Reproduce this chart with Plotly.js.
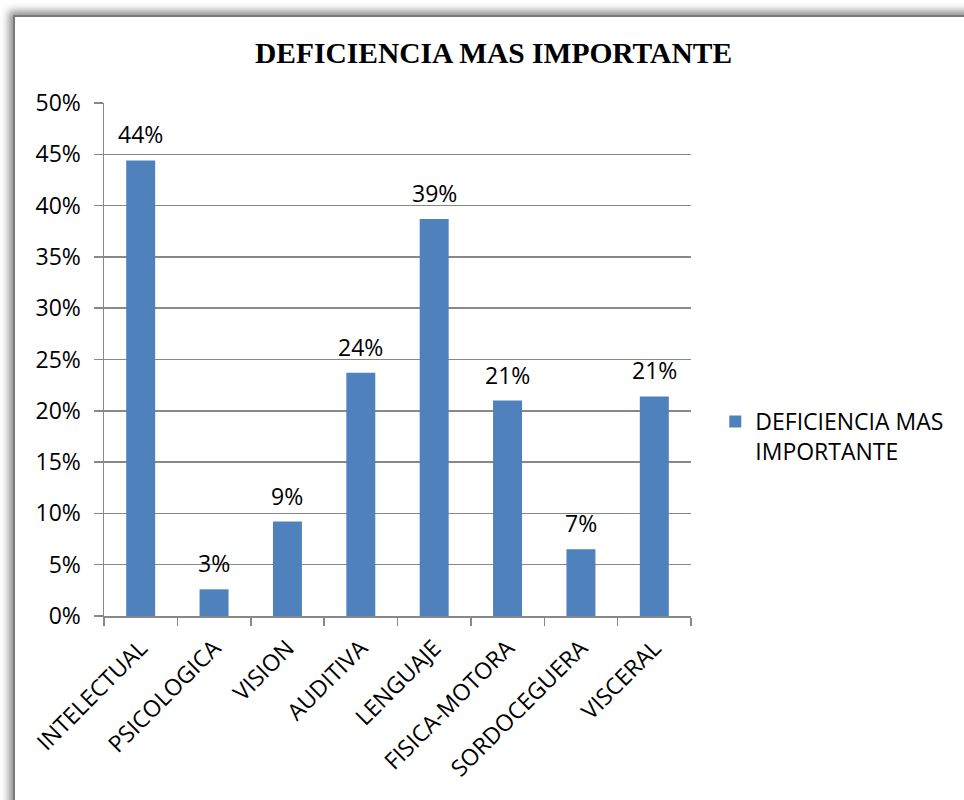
<!DOCTYPE html>
<html>
<head>
<meta charset="utf-8">
<script src="https://cdn.plot.ly/plotly-3.0.1.min.js"></script>
<style>
  html, body { margin: 0; padding: 0; width: 964px; height: 800px; overflow: hidden; background: #ffffff; }
  #frame { position: absolute; left: 13px; top: 15px; width: 1000px; height: 900px;
           border-left: 2px solid #7a7a7a; border-top: 2px solid #7a7a7a;
           box-shadow: -4px -4px 8px rgba(0,0,0,0.45); background: #ffffff; z-index: 0; }
  #chart { position: absolute; left: 0; top: 0; width: 964px; height: 800px; z-index: 1; }
</style>
</head>
<body>
<div id="frame"></div>
<div id="chart"></div>
<script>
const categories = ["INTELECTUAL", "PSICOLOGICA", "VISION", "AUDITIVA", "LENGUAJE", "FISICA-MOTORA", "SORDOCEGUERA", "VISCERAL"];
const values = [0.444, 0.026, 0.092, 0.237, 0.387, 0.210, 0.065, 0.214];
const seriesName = "DEFICIENCIA MAS<br>IMPORTANTE";
const chartTitle = "DEFICIENCIA MAS IMPORTANTE";
const yTickVals = [0, 0.05, 0.10, 0.15, 0.20, 0.25, 0.30, 0.35, 0.40, 0.45, 0.50];
const yTickText = ["0%", "5%", "10%", "15%", "20%", "25%", "30%", "35%", "40%", "45%", "50%"];

const FONT = "'Open Sans', sans-serif";
const labels = values.map(v => Math.round(v * 100) + "%");

const trace = {
  type: "bar",
  x: categories,
  y: values,
  name: seriesName,
  marker: { color: "#4f81bd", line: { width: 0 } },
  showlegend: true,
  hoverinfo: "x+y"
};

const annotations = categories.map((c, i) => ({
  x: c, y: values[i], xref: "x", yref: "y",
  text: labels[i], showarrow: false,
  yanchor: "middle", yshift: 26,
  font: { family: FONT, size: 23, color: "#000000" }
}));

const layout = {
  width: 964, height: 800,
  paper_bgcolor: "rgba(0,0,0,0)",
  plot_bgcolor: "rgba(0,0,0,0)",
  margin: { l: 104, r: 273, t: 103, b: 184, pad: 0 },
  font: { family: FONT, size: 23, color: "#000000" },
  title: {
    text: "<b>" + chartTitle + "</b>",
    font: { family: "'Liberation Serif', 'Times New Roman', serif", size: 29.5, color: "#000000" },
    xref: "container", yref: "container",
    x: 0.512, xanchor: "center", y: 0.934, yanchor: "middle"
  },
  bargap: 0.605,
  xaxis: {
    type: "category",
    tickangle: -45,
    tickson: "boundaries",
    ticks: "outside", ticklen: 8, tickcolor: "#888888", tickwidth: 1.5,
    showline: true, linecolor: "#888888", linewidth: 1.5,
    showgrid: false, zeroline: false,
    ticklabelstandoff: 8,
    tickfont: { family: FONT, size: 23, color: "#000000" },
    automargin: false
  },
  yaxis: {
    range: [0, 0.5],
    tickmode: "array", tickvals: yTickVals, ticktext: yTickText,
    ticks: "outside", ticklen: 9, tickcolor: "#888888", tickwidth: 1.5,
    showline: true, linecolor: "#888888", linewidth: 1.5,
    showgrid: true, gridcolor: "#888888", gridwidth: 1.5,
    zeroline: false,
    ticklabelstandoff: 8,
    tickfont: { family: FONT, size: 23, color: "#000000" },
    automargin: false
  },
  legend: {
    xref: "container", yref: "container",
    x: 0.742, xanchor: "left",
    y: 1 - 400 / 800, yanchor: "top",
    valign: "top",
    bgcolor: "rgba(0,0,0,0)",
    font: { family: FONT, size: 23, color: "#000000" }
  },
  annotations: annotations,
  showlegend: true
};

Plotly.newPlot("chart", [trace], layout, { displayModeBar: false, staticPlot: true });
</script>
</body>
</html>
